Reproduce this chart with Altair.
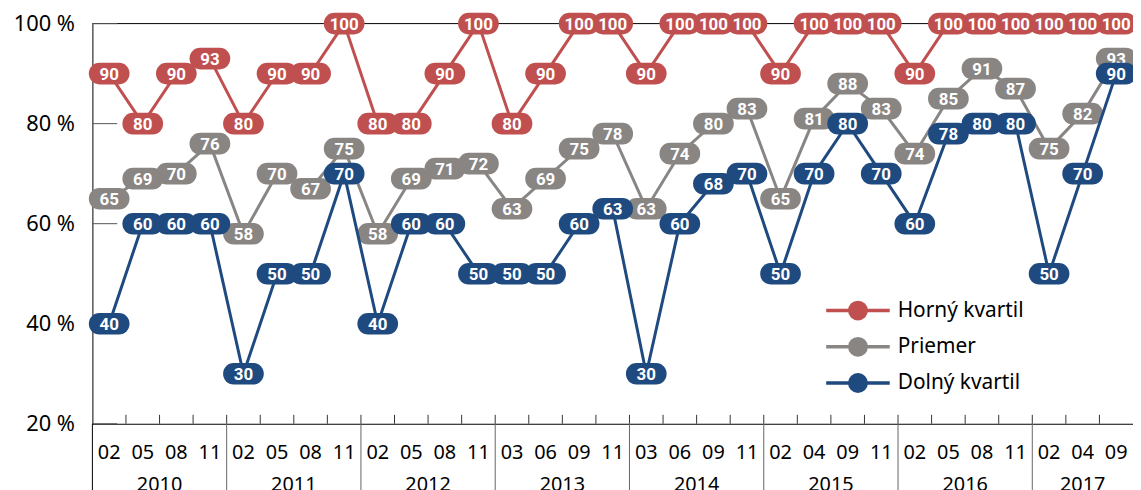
import altair as alt
import pandas as pd

# ---- data ----
months = ["02", "05", "08", "11", "02", "05", "08", "11", "02", "05", "08", "11",
          "03", "06", "09", "11", "03", "06", "09", "11", "02", "04", "09", "11",
          "02", "05", "08", "11", "02", "04", "09"]
years = (["2010"] * 4 + ["2011"] * 4 + ["2012"] * 4 + ["2013"] * 4 +
         ["2014"] * 4 + ["2015"] * 4 + ["2016"] * 4 + ["2017"] * 3)
horny = [90, 80, 90, 93, 80, 90, 90, 100, 80, 80, 90, 100, 80, 90, 100, 100,
         90, 100, 100, 100, 90, 100, 100, 100, 90, 100, 100, 100, 100, 100, 100]
priemer = [65, 69, 70, 76, 58, 70, 67, 75, 58, 69, 71, 72, 63, 69, 75, 78,
           63, 74, 80, 83, 65, 81, 88, 83, 74, 85, 91, 87, 75, 82, 93]
dolny = [40, 60, 60, 60, 30, 50, 50, 70, 40, 60, 60, 50, 50, 50, 60, 63,
         30, 60, 68, 70, 50, 70, 80, 70, 60, 78, 80, 80, 50, 70, 90]
series_names = ["Horný kvartil", "Priemer", "Dolný kvartil"]
series_values = [horny, priemer, dolny]
series_colors = ["#C0504F", "#898583", "#1F4A7F"]
y_ticks = [20, 40, 60, 80, 100]

# ---- layout constants ----
W, H = 1048, 403
FONT = "Noto Sans"
PILL = ("M -0.48,-0.53 L 0.48,-0.53 C 0.773,-0.53 1,-0.293 1,0 "
        "C 1,0.293 0.773,0.53 0.48,0.53 L -0.48,0.53 "
        "C -0.773,0.53 -1,0.293 -1,0 C -1,-0.293 -0.773,-0.53 -0.48,-0.53 Z")

n = len(months)
idx = list(range(n))
cats = pd.DataFrame({"i": idx, "month": months, "year": years})

xscale = alt.Scale(domain=[-0.5, n - 0.5], nice=False, zero=False)
xaxis = alt.Axis(labels=False, ticks=False, grid=False, title=None,
                 domainColor="black", domainWidth=1)
yscale = alt.Scale(domain=[min(y_ticks), max(y_ticks)], nice=False, zero=False)
yaxis = alt.Axis(values=y_ticks, labelExpr="datum.value + ' %'", ticks=False,
                 grid=False, title=None, domainColor="black", domainWidth=1,
                 labelFont=FONT, labelFontSize=22, labelColor="black",
                 labelPadding=18)


def xenc(field):
    return alt.X(f"{field}:Q", scale=xscale, axis=xaxis)


def yenc(field):
    return alt.Y(f"{field}:Q", scale=yscale, axis=yaxis)


layers = []

# top frame line at 100 %
top_df = pd.DataFrame({"t": [max(y_ticks)]})
layers.append(alt.Chart(top_df).mark_rule(color="black", strokeWidth=1).encode(
    y=yenc("t"), x=alt.value(0), x2=alt.value(W)))

# inward y ticks
yt_df = pd.DataFrame({"t": y_ticks})
layers.append(alt.Chart(yt_df).mark_rule(color="#555555", strokeWidth=1).encode(
    y=yenc("t"), x=alt.value(0), x2=alt.value(25)))

# minor ticks at category boundaries (upward)
bnd = pd.DataFrame({"b": [k - 0.5 for k in range(1, n)]})
layers.append(alt.Chart(bnd).mark_rule(color="#333333", strokeWidth=1).encode(
    x=xenc("b"), y=alt.value(H - 9), y2=alt.value(H)))

# year separators (downward)
ystarts = [k - 0.5 for k in range(1, n) if years[k] != years[k - 1]]
ysep = pd.DataFrame({"b": ystarts})
layers.append(alt.Chart(ysep).mark_rule(color="#666666", strokeWidth=1).encode(
    x=xenc("b"), y=alt.value(H), y2=alt.value(H + 90)))
# y-axis line extension below the axis
layers.append(alt.Chart(top_df).mark_rule(color="black", strokeWidth=1).encode(
    x=alt.value(0), y=alt.value(H), y2=alt.value(H + 90)))

# month labels
layers.append(alt.Chart(cats).mark_text(font=FONT, fontSize=20, color="black",
                                        baseline="middle").encode(
    x=xenc("i"), y=alt.value(H + 29), text="month:N"))

# year labels
ydf = cats.groupby("year", as_index=False)["i"].mean()
layers.append(alt.Chart(ydf).mark_text(font=FONT, fontSize=20, color="black",
                                       baseline="middle").encode(
    x=xenc("i"), y=alt.value(H + 62), text="year:N"))

# series
for name, vals, col in zip(series_names, series_values, series_colors):
    df = pd.DataFrame({"i": idx, "v": vals, "s": name})
    base = alt.Chart(df)
    layers.append(base.mark_line(color=col, strokeWidth=3).encode(
        x=xenc("i"), y=yenc("v")))
    layers.append(base.mark_point(shape=PILL, size=1681, filled=True, opacity=1,
                                  color=col, strokeWidth=0).encode(
        x=xenc("i"), y=yenc("v")))
    layers.append(base.mark_text(font="Roboto", fontSize=17, fontWeight="bold",
                                 color="white", baseline="middle", dy=1).encode(
        x=xenc("i"), y=yenc("v"), text="v:Q"))

# legend (manual)
LX0, LX1, LCX, LTX, LY0, LDY = 739, 803, 771, 811, 289, 36.5
for r, (name, col) in enumerate(zip(series_names, series_colors)):
    ldf = pd.DataFrame({"name": [name]})
    yy = LY0 + LDY * r
    lb = alt.Chart(ldf)
    layers.append(lb.mark_rule(color=col, strokeWidth=3.5).encode(
        x=alt.value(LX0), x2=alt.value(LX1), y=alt.value(yy)))
    layers.append(lb.mark_point(shape="circle", filled=True, opacity=1, size=400,
                                color=col, strokeWidth=0).encode(
        x=alt.value(LCX), y=alt.value(yy)))
    layers.append(lb.mark_text(font=FONT, fontSize=21, color="black", align="left",
                               baseline="middle").encode(
        x=alt.value(LTX), y=alt.value(yy), text="name:N"))

chart = alt.layer(*layers).properties(
    width=W, height=H,
    padding={"left": 85, "top": 14, "right": 0, "bottom": 65},
    autosize=alt.AutoSizeParams(type="none"),
).configure_view(stroke=None)

chart.save("out.html", embed_options={"renderer": "svg", "actions": False})
